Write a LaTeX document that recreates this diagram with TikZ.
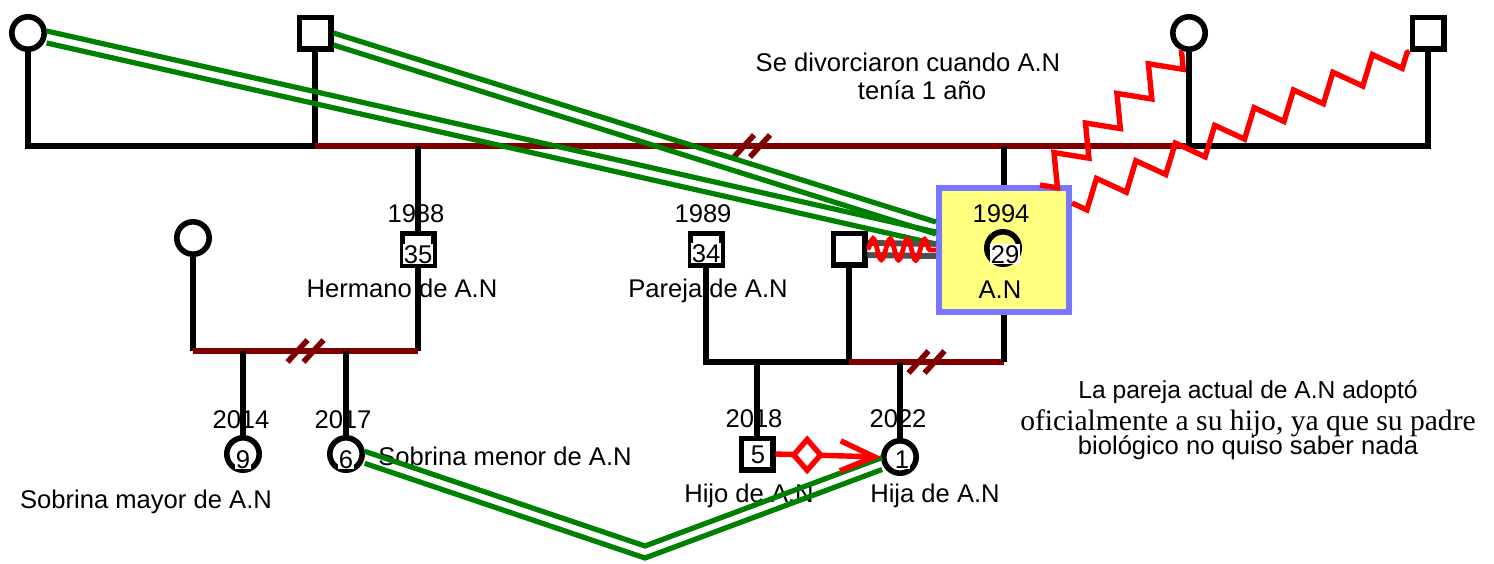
\documentclass[tikz,border=0pt]{standalone}
\usepackage{fontspec}
\setmainfont{Liberation Sans}
\newfontfamily\notaserif{Liberation Serif}
\usetikzlibrary{arrows.meta,calc,shapes.geometric,decorations.pathmorphing,decorations.markings}
\definecolor{genmaroon}{RGB}{128,0,0}
\definecolor{gengreen}{RGB}{0,128,0}
\definecolor{genred}{RGB}{255,0,0}
\definecolor{genblue}{RGB}{120,120,255}
\definecolor{genyellow}{RGB}{255,255,128}
\definecolor{gengray}{RGB}{80,80,80}
\tikzset{
  mujer/.style={circle, draw, line width=2.8pt, minimum size=16.2pt, inner sep=0pt},
  hombre/.style={rectangle, draw, line width=2.8pt, minimum size=15.7pt, inner sep=0pt},
  edad/.style={anchor=base, fill=white, inner sep=0.6pt},
  txt/.style={anchor=base, inner sep=0pt},
  famline/.style={line width=2.8pt},
  divline/.style={line width=2.8pt, genmaroon,
    postaction={decorate, decoration={markings, mark=at position 0.5 with
      {\draw[genmaroon, line width=2.8pt] (-18,11) -- (2,-11) (-2,11) -- (18,-11);}}}},
  cercana/.style={draw=none,
    preaction={draw=gengreen, line width=2.6pt, transform canvas={yshift=3pt}},
    postaction={draw=gengreen, line width=2.6pt, transform canvas={yshift=-3pt}}},
  hostil/.style={genred, line width=2.7pt, decorate,
    decoration={zigzag, segment length=21.6pt, amplitude=#1, mirror}},
  hostil/.default=7pt,
  fusion/.style={draw=gengray, line width=3pt, double=white, double distance=3pt},
  conflicto/.style={genred, line width=2.4pt, decorate,
    decoration={snake, segment length=8.6pt, amplitude=5.3pt}},
  adopcion/.style={genred, line width=2.7pt, -{Straight Barb[length=17pt,width=15pt]}},
  rombo/.style={diamond, draw=genred, fill=white, line width=2.7pt, minimum width=14.5pt,
    minimum height=16.5pt, inner sep=0pt}
}

\begin{document}
\begin{tikzpicture}[x=0.5pt, y=-0.5pt, font=\fontsize{12.8}{15}\selectfont]
  \useasboundingbox (0,0) rectangle (1494,563);

  % Texts
  \node[txt] (divA) at (908,71) {Se divorciaron cuando A.N};
  \node[txt] (divB) at (922,99) {tenía 1 año};
  \node[txt] (y88) at (416,222) {1988};
  \node[txt] (y89) at (703,222) {1989};
  \node[txt] (lblHer) at (402,297) {Hermano de A.N};
  \node[txt] (lblPar) at (708,297) {Pareja de A.N};
  \node[txt] (y14) at (241,428) {2014};
  \node[txt] (y17) at (343,428) {2017};
  \node[txt] (y18) at (754,427) {2018};
  \node[txt] (y22) at (898,427) {2022};
  \node[txt, anchor=base west] (lblSmen) at (378,465) {Sobrina menor de A.N};
  \node[txt] (lblSmay) at (146,508) {Sobrina mayor de A.N};
  \node[txt] (lblHijo) at (749,502) {Hijo de A.N};
  \node[txt] (lblHija) at (935,502) {Hija de A.N};
  \node[txt, font=\fontsize{12.3}{15}\selectfont] (nota1) at (1248,398)
    {La pareja actual de A.N adoptó};
  \node[txt, font=\notaserif\fontsize{14.8}{17}\selectfont] (nota2) at (1248,430)
    {oficialmente a su hijo, ya que su padre};
  \node[txt, font=\fontsize{12.8}{15}\selectfont] (nota3) at (1248,454)
    {biológico no quiso saber nada};

  % People
  \node[mujer] (gmaL) at (28,33) {};
  \node[hombre] (gpa) at (315,33) {};
  \node[mujer] (momR) at (1189,33) {};
  \node[hombre] (stepR) at (1428,33) {};
  \node[hombre] (bro) at (418,249) {};
  \node[mujer] (exW) at (193,238) {};
  \node[mujer] (niece9) at (243,454) {};
  \node[mujer] (niece6) at (346,454) {};
  \node[hombre] (pareja) at (706,249) {};
  \node[hombre] (exP) at (849,249) {};
  \node[hombre] (son) at (757,454) {};
  \node[mujer] (daughter) at (900,457) {};

  % A.N
  \node[draw=genblue, fill=genyellow, line width=2.8pt, minimum width=65.2pt,
    minimum height=62.2pt] (an) at (1004,250) {};
  \node[txt] (y94) at (1001,222) {1994};
  \node[mujer] (anC) at (1003,248) {};
  \node[txt] (lblAN) at (1000,298) {A.N};

  % Family lines
  \coordinate (m1) at (315,146);
  \coordinate (m2) at (1189,146);
  \coordinate (m4) at (193,351);
  \coordinate (m5) at (418,351);
  \coordinate (m7) at (849,362);
  \coordinate (m8) at (1004,362);
  \draw[famline] (gmaL.south) |- (m1) -- (gpa.south);
  \draw[divline] (m1) -- (m2);
  \draw[famline] (momR.south) -- (m2) -| (stepR.south);
  \draw[famline] (bro.north) -- (bro.north |- m1);
  \draw[famline] (an.north) -- (an.north |- m1);
  \draw[famline] (exW.south) -- (m4);
  \draw[famline] (bro.south) -- (m5);
  \draw[divline] (m4) -- (m5);
  \draw[famline] (niece9.north) -- (niece9.north |- m4);
  \draw[famline] (niece6.north) -- (niece6.north |- m4);
  \draw[famline] (pareja.south) |- (m7);
  \draw[famline] (exP.south) -- (m7);
  \draw[divline] (m7) -- (m8);
  \draw[famline] (an.south) -- (m8);
  \draw[famline] (son.north) -- (son.north |- m7);
  \draw[famline] (daughter.north) -- (daughter.north |- m7);

  % Relationships
  \draw[cercana] (gmaL.-12) -- ($(an.west)+(0,-12)$);
  \draw[cercana] ($(gpa.east)+(0,6)$) -- ($(an.west)+(0,-22)$);
  \coordinate (vdip) at (645,552);
  \draw[cercana] (niece6.-10) -- (vdip) -- (daughter.200);
  \draw[hostil] ($(an.north)+(36,0)$) -- (momR.-110);
  \draw[hostil=6.2pt] ($(an.north east)+(0,18)$) -- (stepR.south west);
  \draw[fusion] (exP.east) -- (an.west);
  \draw[conflicto] (exP.east) -- (an.west);
  \draw[adopcion] (son.east) -- node[rombo, pos=0.3] (rom) {} (daughter.west);

  % Ages
  \node[edad] (e35) at (418,263) {35};
  \node[edad] (e34) at (706,262) {34};
  \node[edad] (e29) at (1005,263) {29};
  \node[edad] (e9) at (243,468) {9};
  \node[edad] (e6) at (346,468) {6};
  \node[edad] (e5) at (758,463) {5};
  \node[edad] (e1) at (902,468) {1};

\end{tikzpicture}
\end{document}
